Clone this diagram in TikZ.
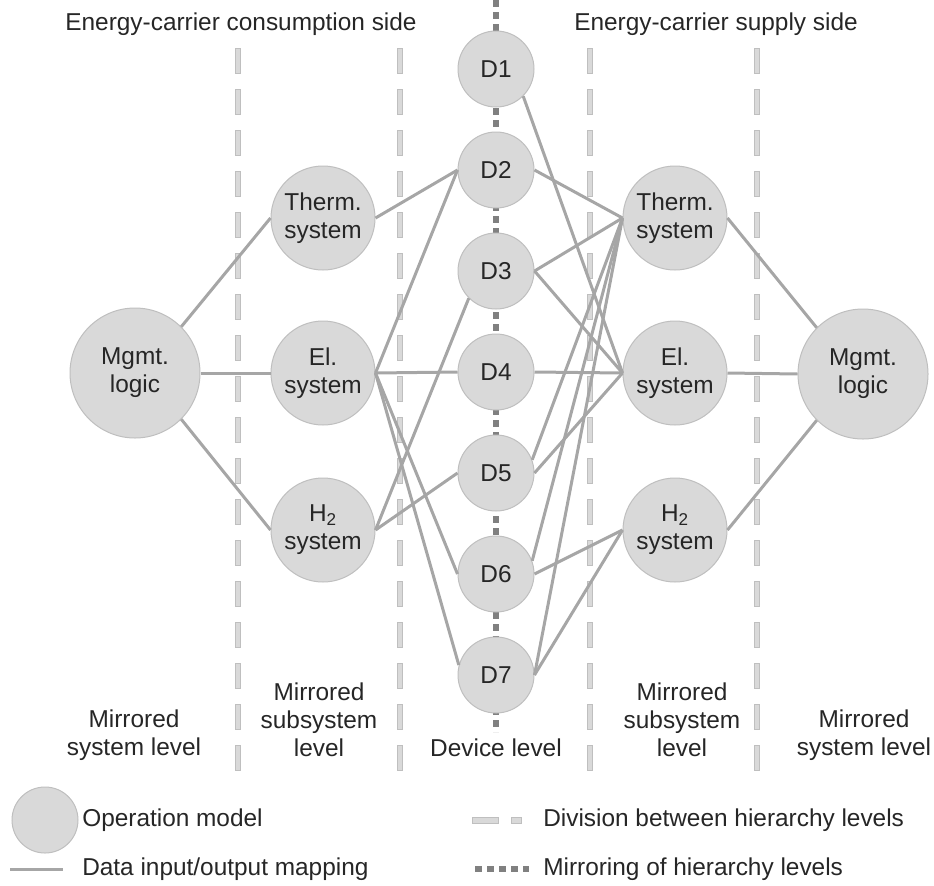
\documentclass[tikz,border=0pt]{standalone}
\usepackage{fontspec}
\setmainfont{Liberation Sans}
\usetikzlibrary{positioning}
\definecolor{opfill}{HTML}{D9D9D9}
\definecolor{opline}{HTML}{BFBFBF}
\definecolor{mapgray}{HTML}{A6A6A6}
\definecolor{mirrorgray}{HTML}{808080}
\definecolor{txtgray}{HTML}{262626}
\begin{document}
\begin{tikzpicture}[x=0.75pt,y=-0.75pt,node distance=75.75pt,
  font=\fontsize{18.3}{21}\selectfont,text=txtgray]
\tikzstyle{op}=[circle,draw=opline,line width=0.75pt,fill=opfill,align=center,inner sep=0pt];
\tikzstyle{dev}=[op,minimum size=57pt];
\tikzstyle{sub}=[op,minimum size=78pt];
\tikzstyle{mgmt}=[op,minimum size=97.5pt];
\tikzstyle{map}=[draw=mapgray,line width=2.25pt];
\tikzstyle{mirrorline}=[draw=mirrorgray,line width=3.9pt,dash pattern=on 5.25pt off 3.75pt];
\tikzstyle{division}=[draw=opline,fill=opfill,line width=0.6pt];
\tikzstyle{lbl}=[align=center,inner sep=0pt];
\useasboundingbox (0,0) rectangle (934,885);
% division between levels
\foreach \x in {238,400,590,757}
  \foreach \y in {0,...,17}
    \draw[division] ({\x-2.75},{48+41*\y}) rectangle ++(5.5,25);
% mirroring axis
\coordinate (axtop) at (496,0);
\coordinate (axbot) at (496,732);
\draw[mirrorline] (axtop) -- (axbot);
% devices
\node (D1) [dev] at (496,69) {D1};
\node (D2) [dev,below of=D1] {D2};
\node (D3) [dev,below of=D2] {D3};
\node (D4) [dev,below of=D3] {D4};
\node (D5) [dev,below of=D4] {D5};
\node (D6) [dev,below of=D5] {D6};
\node (D7) [dev,below of=D6] {D7};
% consumption side
\node (ThL) [sub] at (323,218) {Therm.\\system};
\node (ElL) [sub] at (323,373) {El.\\system};
\node (HyL) [sub] at (323,530) {H\textsubscript{2}\\system};
\node (MgL) [mgmt] at (135,373) {Mgmt.\\logic};
% supply side
\node (ThR) [sub] at (675,218) {Therm.\\system};
\node (ElR) [sub] at (675,373) {El.\\system};
\node (HyR) [sub] at (675,530) {H\textsubscript{2}\\system};
\node (MgR) [mgmt] at (863,374) {Mgmt.\\logic};
% mappings
\foreach \a/\b in {MgL.north east/ThL.west, MgL.east/ElL.west, MgL.south east/HyL.west,
    ThL.east/D2.west, ElL.east/D2.west, ElL.east/D4.west, ElL.east/D6.west,
    ElL.east/D7.165, HyL.east/D3.south west, HyL.east/D5.west}
  \draw[map] (\a) -- (\b);
\foreach \a/\b in {D1.south east/ElR.west, D2.east/ThR.west, D3.east/ThR.west,
    D3.east/ElR.west, D4.east/ElR.west, D5.20/ThR.west, D5.east/ElR.west,
    D6.20/ThR.west, D6.east/HyR.west, D7.east/ThR.west, D7.east/HyR.west,
    ThR.east/MgR.north west, ElR.east/MgR.west, HyR.east/MgR.south west}
  \draw[map] (\a) -- (\b);
% headers and level names
\node (hdrC) [lbl] at (241,24) {Energy-carrier consumption side};
\node (hdrS) [lbl] at (716,24) {Energy-carrier supply side};
\node (lvlML) [lbl] at (134,735) {Mirrored\\system level};
\node (lvlSL) [lbl] at (319,720) {Mirrored\\subsystem\\level};
\node (lvlD) [lbl] at (496,748) {Device level};
\node (lvlSR) [lbl] at (682,720) {Mirrored\\subsystem\\level};
\node (lvlMR) [lbl] at (864,735) {Mirrored\\system level};
% legend
\node (legOp) [op,minimum size=49.5pt] at (45,820) {};
\node (legOpT) [lbl,anchor=west] at (82,820) {Operation model};
\coordinate (legMa) at (10,869);
\coordinate (legMb) at (63,869);
\draw[map] (legMa) -- (legMb);
\node (legMapT) [lbl,anchor=west] at (82,869) {Data input/output mapping};
\draw[division] (472,817) rectangle (498,823);
\draw[division] (511,817) rectangle (521,823);
\node (legDivT) [lbl,anchor=west] at (543,820) {Division between hierarchy levels};
\coordinate (legRa) at (475,869);
\coordinate (legRb) at (529,869);
\draw[mirrorline] (legRa) -- (legRb);
\node (legMirT) [lbl,anchor=west] at (543,869) {Mirroring of hierarchy levels};
\end{tikzpicture}
\end{document}
